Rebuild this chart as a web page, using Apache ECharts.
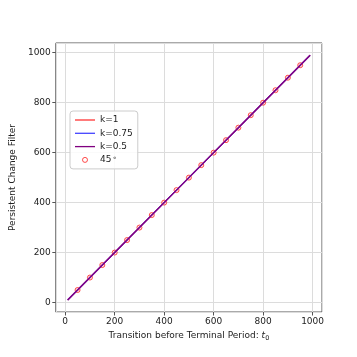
<!DOCTYPE html>
<html>
<head>
<meta charset="utf-8">
<script src="https://cdn.jsdelivr.net/npm/echarts@6/dist/echarts.min.js"></script>
<style>
  html, body { margin: 0; padding: 0; background: #fff; }
  #chart { width: 357px; height: 357px; }
</style>
</head>
<body>
<div id="chart"></div>
<script>
// transition period t0 and filter value for each k (the three lines coincide)
const lineT = [10, 250, 500, 750, 990];
const filterK1 = [10, 250, 500, 750, 990];
const filterK075 = [10, 250, 500, 750, 990];
const filterK05 = [10, 250, 500, 750, 990];
// 45 degree reference markers
const markerT = [50, 100, 150, 200, 250, 300, 350, 400, 450, 500, 550, 600, 650, 700, 750, 800, 850, 900, 950];
const markerV = [50, 100, 150, 200, 250, 300, 350, 400, 450, 500, 550, 600, 650, 700, 750, 800, 850, 900, 950];

const pairs = (xs, ys) => xs.map((x, i) => [x, ys[i]]);
const font = "DejaVu Sans";
const ink = "#222";
const frame = "#555";
const lineIcon = "path://M0,0H20V1.3H0Z";
const degName = "45°";

const chart = echarts.init(document.getElementById("chart"));
const axisLabel = {
  fontFamily: font,
  fontSize: 9,
  color: ink,
  margin: 5,
  showMinLabel: false,
  showMaxLabel: false,
  formatter: (v) => String(v),
};
const option = {
  animation: false,
  backgroundColor: "#fff",
  textStyle: { fontFamily: font },
  grid: {
    left: 44,
    right: 35,
    top: 43,
    bottom: 45,
    show: true,
    borderColor: frame,
    borderWidth: 1,
  },
  legend: {
    orient: "vertical",
    left: 70,
    top: 111,
    padding: [4, 5, 4, 5],
    itemWidth: 20,
    itemHeight: 5,
    itemGap: 3.3,
    backgroundColor: "rgba(255,255,255,0.85)",
    borderColor: "#ccc",
    borderWidth: 1,
    borderRadius: 3,
    data: [
      { name: "k=1", icon: lineIcon, itemStyle: { color: "#ff3333", borderWidth: 0 } },
      { name: "k=0.75", icon: lineIcon, itemStyle: { color: "#4444ff", borderWidth: 0 } },
      { name: "k=0.5", icon: lineIcon, itemStyle: { color: "#800080", borderWidth: 0 } },
      {
        name: degName,
        icon: "circle",
        itemStyle: { color: "transparent", borderColor: "#ff2020", borderWidth: 1 },
      },
    ],
    formatter: (name) => (name === degName ? "45{deg|∘}" : name),
    textStyle: {
      fontFamily: font,
      fontSize: 9,
      color: ink,
      lineHeight: 10,
      rich: { deg: { fontSize: 7, verticalAlign: "top", lineHeight: 8, padding: [0, 0, 3, 1] } },
    },
  },
  xAxis: {
    type: "value",
    min: -38,
    max: 1038,
    splitNumber: 5,
    name: "Transition before Terminal Period: {it|t}{sub|0}",
    nameLocation: "middle",
    nameGap: 15,
    nameTextStyle: {
      fontFamily: font,
      fontSize: 9,
      color: ink,
      rich: {
        it: { fontFamily: font, fontSize: 9, fontStyle: "italic", color: ink },
        sub: { fontFamily: font, fontSize: 6.5, color: ink, padding: [5, 0, 0, 0] },
      },
    },
    axisLine: { show: false, onZero: false },
    axisTick: { show: true, length: 3.5, lineStyle: { color: frame } },
    axisLabel: axisLabel,
    splitLine: { show: true, lineStyle: { color: "#dcdcdc", width: 1 } },
  },
  yAxis: {
    type: "value",
    min: -38,
    max: 1039,
    splitNumber: 5,
    name: "Persistent Change Filter",
    nameLocation: "middle",
    nameGap: 29,
    nameTextStyle: { fontFamily: font, fontSize: 9, color: ink },
    axisLine: { show: false, onZero: false },
    axisTick: { show: true, length: 3.5, lineStyle: { color: frame } },
    axisLabel: axisLabel,
    splitLine: { show: true, lineStyle: { color: "#dcdcdc", width: 1 } },
  },
  series: [
    {
      name: degName,
      type: "scatter",
      data: pairs(markerT, markerV),
      symbol: "circle",
      symbolSize: 5,
      itemStyle: { color: "rgba(255,80,80,0.15)", borderColor: "#ff2020", borderWidth: 1 },
      z: 2,
    },
    {
      name: "k=1",
      type: "line",
      data: pairs(lineT, filterK1),
      showSymbol: false,
      lineStyle: { color: "#ff3333", width: 1.3 },
      itemStyle: { color: "#ff3333" },
      z: 3,
    },
    {
      name: "k=0.75",
      type: "line",
      data: pairs(lineT, filterK075),
      showSymbol: false,
      lineStyle: { color: "#4444ff", width: 1.3 },
      itemStyle: { color: "#4444ff" },
      z: 4,
    },
    {
      name: "k=0.5",
      type: "line",
      data: pairs(lineT, filterK05),
      showSymbol: false,
      lineStyle: { color: "#800080", width: 1.3 },
      itemStyle: { color: "#800080" },
      z: 5,
    },
  ],
};
chart.setOption(option);
</script>
</body>
</html>
